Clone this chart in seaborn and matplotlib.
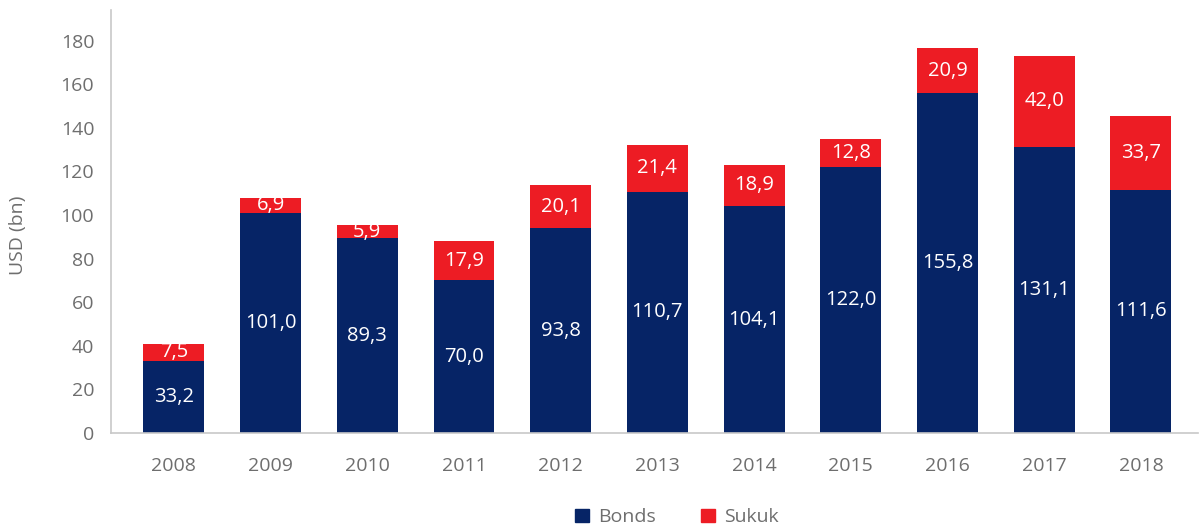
import matplotlib
matplotlib.use("Agg")
import matplotlib.pyplot as plt
from matplotlib.patches import Patch
import seaborn as sns
import pandas as pd

# values
years = ["2008", "2009", "2010", "2011", "2012", "2013", "2014", "2015", "2016", "2017", "2018"]
bonds = [33.2, 101.0, 89.3, 70.0, 93.8, 110.7, 104.1, 122.0, 155.8, 131.1, 111.6]
sukuk = [7.5, 6.9, 5.9, 17.9, 20.1, 21.4, 18.9, 12.8, 20.9, 42.0, 33.7]

navy = "#062466"
red = "#ED1C24"
grey = "#6E6E6E"

df = pd.DataFrame({"year": years, "bonds": bonds, "sukuk": sukuk})
df["total"] = df["bonds"] + df["sukuk"]

sns.set_style("white")
plt.rcParams["font.family"] = ["Open Sans", "DejaVu Sans"]

fig = plt.figure(figsize=(12.01, 5.29), dpi=100)
ax = fig.add_axes([0.0924, 0.1815, 0.9051, 0.7995])

# stacked: draw totals in red, bonds over them in navy
sns.barplot(data=df, x="year", y="total", color=red, width=0.63, saturation=1,
            linewidth=0, ax=ax)
sns.barplot(data=df, x="year", y="bonds", color=navy, width=0.63, saturation=1,
            linewidth=0, ax=ax)

for i, (b, s) in enumerate(zip(bonds, sukuk)):
    ax.text(i, b / 2, f"{b:.1f}".replace(".", ","), ha="center", va="center",
            color="white", fontsize=14.5)
    ax.text(i, b + s / 2, f"{s:.1f}".replace(".", ","), ha="center", va="center",
            color="white", fontsize=14.5)

ax.set_ylim(0, 194)
ax.set_xlim(-0.65, 10.59)
ax.set_yticks(range(0, 181, 20))
ax.set_xlabel("")
ax.set_ylabel("")
ax.tick_params(axis="y", length=0, pad=12, labelsize=14, labelcolor=grey)
ax.tick_params(axis="x", length=0, pad=17, labelsize=14, labelcolor=grey)

for side in ["top", "right"]:
    ax.spines[side].set_visible(False)
ax.spines["left"].set_color("#C8C8C8")
ax.spines["bottom"].set_color("#C8C8C8")
ax.spines["left"].set_linewidth(1.2)
ax.spines["bottom"].set_linewidth(1.2)

fig.text(18 / 1201, 1 - 235 / 529, "USD (bn)", rotation=90, ha="center", va="center",
         color=grey, fontsize=14)

handles = [Patch(color=navy, label="Bonds"), Patch(color=red, label="Sukuk")]
fig.legend(handles=handles, loc="center", bbox_to_anchor=(677 / 1201, 0.022), ncol=2,
           frameon=False, fontsize=14, labelcolor=grey, handlelength=0.7,
           handleheight=0.7, handletextpad=0.5, columnspacing=2.3)

fig.savefig("out.png", dpi=100)
